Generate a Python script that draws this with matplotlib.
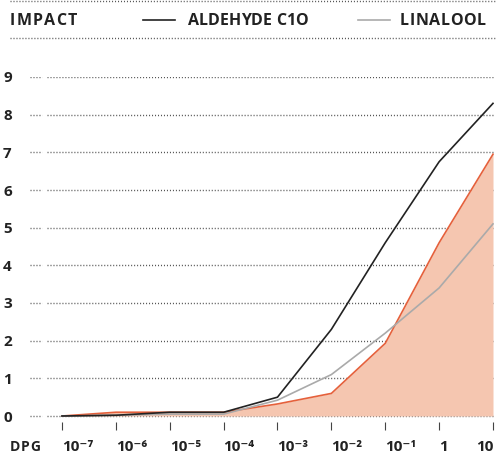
import numpy as np
import matplotlib.pyplot as plt

plt.rcParams['font.family'] = ['Open Sans', 'DejaVu Sans']

# dose exponents (log10 DPG) and impact values
exponents = [-7, -6, -5, -4, -3, -2, -1, 0, 1]
x_labels = ['10⁻⁷', '10⁻⁶', '10⁻⁵', '10⁻⁴', '10⁻³', '10⁻²', '10⁻¹', '1', '10']
aldehyde = [0.0, 0.02, 0.1, 0.1, 0.5, 2.3, 4.6, 6.75, 8.3]
linalool = [0.0, 0.02, 0.05, 0.05, 0.42, 1.1, 2.2, 3.4, 5.1]
dpg = [0.0, 0.1, 0.1, 0.1, 0.32, 0.6, 1.93, 4.6, 6.95]
y_ticks = list(range(10))

W, H = 497, 454
fig = plt.figure(figsize=(W / 100, H / 100), dpi=100)
renderer = fig.canvas.get_renderer()

dark = '#222222'
grid_c = '#555555'
dots = (0, (0.75, 1.4))


def tracked(x_px, y_px, s, size, track_px):
    # draw text letter by letter with extra spacing (pixel coords from top-left)
    x = x_px
    for ch in s:
        t = fig.text(x / W, 1 - y_px / H, ch, fontsize=size, fontweight='bold',
                     color=dark, va='center', ha='left')
        if ch == ' ':
            w = size * 0.4
        else:
            w = t.get_window_extent(renderer).width
        x += w + track_px
    return x


# axes: left edge 28px, right 494px, y=9 at 77px, bottom at 422px
left, right, top, bottom = 28, 494, 77, 422
ax = fig.add_axes([left / W, 1 - bottom / H, (right - left) / W, (bottom - top) / H])
ymin = -(bottom - 416) / ((416 - 77) / 9)
ax.set_ylim(ymin, 9)
ax.set_xlim(-7 - (62 - left) / 53.9, 1 + (right - 493) / 53.9)

# dotted gridlines (short stub, gap, then the long run)
stub_a = -7 - (62 - 30) / 53.9
gap_a = -7 - (62 - 42) / 53.9
gap_b = -7 - (62 - 47) / 53.9
for v in y_ticks:
    ax.hlines(v, stub_a, gap_a, colors=grid_c, linestyles=dots, linewidth=1, zorder=1)
    ax.hlines(v, gap_b, 1, colors=grid_c, linestyles=dots, linewidth=1, zorder=1)

ax.fill_between(exponents, 0, dpg, color='#f5c6b0', linewidth=0, zorder=2)
ax.plot(exponents, dpg, color='#e5603b', linewidth=1.2, zorder=3)
ax.plot(exponents, linalool, color='#aaaaaa', linewidth=1.2, zorder=4)
ax.plot(exponents, aldehyde, color=dark, linewidth=1.2, zorder=5)

for s in ax.spines.values():
    s.set_visible(False)

ax.set_xticks(exponents)
ax.set_xticklabels(x_labels, fontsize=11, fontweight='bold', color=dark)
for i, lab in enumerate(ax.get_xticklabels()):
    lab.set_ha('right' if i == len(x_labels) - 1 else 'left')
ax.tick_params(axis='x', direction='out', length=6, width=0.8, color='#444444', pad=7)

ax.set_yticks(y_ticks)
ax.set_yticklabels([str(v) for v in y_ticks], fontsize=11, fontweight='bold', color=dark)
for lab in ax.get_yticklabels():
    lab.set_ha('left')
ax.tick_params(axis='y', length=0, pad=18)

tracked(10, 447, 'DPG', 10, 0.8)

# header
tracked(10, 21, 'IMPACT', 11.5, 1.2)
fig.add_artist(plt.Line2D([143 / W, 175 / W], [1 - 20 / H] * 2, color=dark, linewidth=1.2))
tracked(188, 21, 'ALDEHYDE C1O', 11.5, 0.0)
fig.add_artist(plt.Line2D([358 / W, 390 / W], [1 - 20 / H] * 2, color='#aaaaaa', linewidth=1.2))
tracked(400, 21, 'LINALOOL', 11.5, 0.6)
for yy in (0.5, 38):
    fig.add_artist(plt.Line2D([10 / W, 495 / W], [1 - yy / H] * 2, color=grid_c,
                              linestyle=dots, linewidth=1))

fig.savefig('out.png', dpi=100)
